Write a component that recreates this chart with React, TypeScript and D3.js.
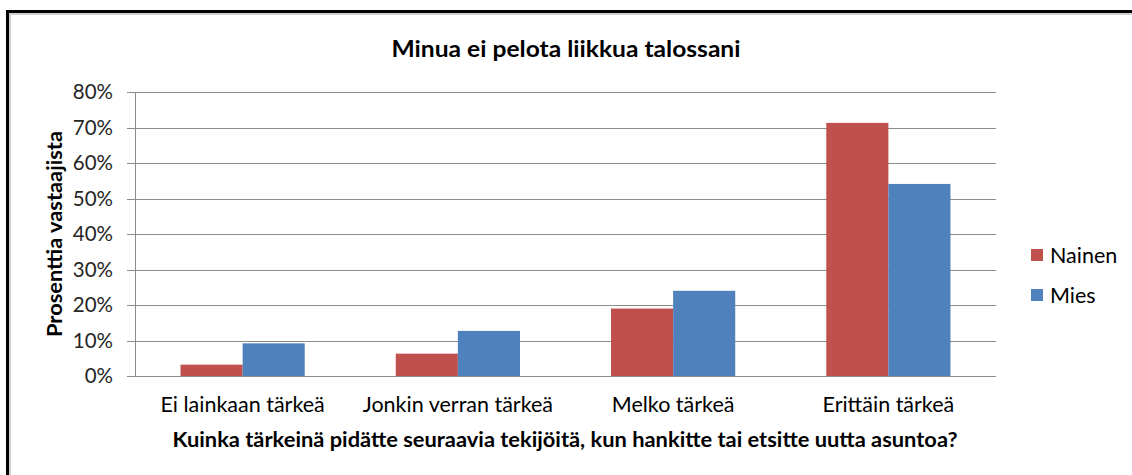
import React, { useEffect, useRef } from 'react';
import * as d3 from 'd3';

const categories = ['Ei lainkaan tärkeä', 'Jonkin verran tärkeä', 'Melko tärkeä', 'Erittäin tärkeä'];
const seriesNames = ['Nainen', 'Mies'];
const nainen = [3.2, 6.3, 19.0, 71.3];
const mies = [9.2, 12.7, 24.0, 54.1];
const yTicks = [0, 10, 20, 30, 40, 50, 60, 70, 80];
const colors = ['#C0504D', '#4F81BD'];

const FONT = "Lato, 'Liberation Sans', Arial, sans-serif";

const App: React.FC = () => {
  const svgRef = useRef<SVGSVGElement>(null);

  useEffect(() => {
    if (!svgRef.current) return;
    const width = 1132;
    const height = 475;
    const margin = { top: 92, right: 136, bottom: 99, left: 135 };

    const svg = d3.select(svgRef.current);
    svg.selectAll('*').remove();

    svg.append('rect').attr('width', width).attr('height', height).attr('fill', '#fff');

    // outer frame (only top and left edges are in view)
    svg.append('line').attr('x1', 9).attr('x2', width).attr('y1', 14).attr('y2', 14)
      .attr('stroke', '#d0d0d0').attr('stroke-width', 2);
    svg.append('line').attr('x1', 10).attr('x2', 10).attr('y1', 14).attr('y2', height)
      .attr('stroke', '#d0d0d0').attr('stroke-width', 2);
    svg.append('path').attr('d', `M7.5,${height} V11.5 H${width}`)
      .attr('fill', 'none').attr('stroke', '#000').attr('stroke-width', 3);

    const x0 = d3.scaleBand<string>()
      .domain(categories)
      .range([margin.left, width - margin.right])
      .paddingInner(0.423)
      .paddingOuter(0.2115);
    const x1 = d3.scaleBand<string>().domain(seriesNames).range([0, x0.bandwidth()]);
    const y = d3.scaleLinear().domain([0, 80]).range([height - margin.bottom, margin.top]);

    // gridlines
    svg.append('g')
      .selectAll('line')
      .data(yTicks)
      .join('line')
      .attr('x1', margin.left - 8)
      .attr('x2', width - margin.right)
      .attr('y1', d => Math.round(y(d)) + 0.5)
      .attr('y2', d => Math.round(y(d)) + 0.5)
      .attr('stroke', '#8c8c8c')
      .attr('stroke-width', 1);

    // y axis line
    svg.append('line')
      .attr('x1', margin.left + 0.5).attr('x2', margin.left + 0.5)
      .attr('y1', y(80)).attr('y2', y(0))
      .attr('stroke', '#8c8c8c');

    svg.append('g')
      .selectAll('text')
      .data(yTicks)
      .join('text')
      .attr('x', 113)
      .attr('y', d => y(d))
      .attr('dy', '0.36em')
      .attr('text-anchor', 'end')
      .attr('font-family', FONT)
      .attr('font-size', 20.5)
      .attr('fill', '#262626')
      .text(d => `${d}%`);

    const data = categories.map((c, i) => ({ cat: c, vals: [nainen[i], mies[i]] }));
    const groups = svg.append('g')
      .selectAll('g')
      .data(data)
      .join('g')
      .attr('transform', d => `translate(${x0(d.cat)},0)`);
    groups.selectAll('rect')
      .data(d => d.vals.map((v, j) => ({ v, s: seriesNames[j], j })))
      .join('rect')
      .attr('x', d => x1(d.s)!)
      .attr('width', x1.bandwidth())
      .attr('y', d => y(d.v))
      .attr('height', d => y(0) - y(d.v))
      .attr('fill', d => colors[d.j]);

    // redraw baseline on top of bars
    svg.append('line')
      .attr('x1', margin.left - 8).attr('x2', width - margin.right)
      .attr('y1', Math.round(y(0)) + 0.5).attr('y2', Math.round(y(0)) + 0.5)
      .attr('stroke', '#8c8c8c');

    // category labels
    svg.append('g')
      .selectAll('text')
      .data(categories)
      .join('text')
      .attr('x', d => x0(d)! + x0.bandwidth() / 2)
      .attr('y', 412)
      .attr('text-anchor', 'middle')
      .attr('font-family', FONT)
      .attr('font-size', 21.5)
      .attr('fill', '#000')
      .text(d => d);

    // titles
    svg.append('text')
      .attr('x', 566).attr('y', 57)
      .attr('text-anchor', 'middle')
      .attr('font-family', FONT)
      .attr('font-weight', 'bold')
      .attr('font-size', 23)
      .attr('textLength', 349)
      .attr('lengthAdjust', 'spacingAndGlyphs')
      .text('Minua ei pelota liikkua talossani');

    svg.append('text')
      .attr('x', 565).attr('y', 447)
      .attr('text-anchor', 'middle')
      .attr('font-family', FONT)
      .attr('font-weight', 'bold')
      .attr('font-size', 20)
      .attr('textLength', 785)
      .attr('lengthAdjust', 'spacingAndGlyphs')
      .text('Kuinka tärkeinä pidätte seuraavia tekijöitä, kun hankitte tai etsitte uutta asuntoa?');

    svg.append('text')
      .attr('transform', 'translate(62,234) rotate(-90)')
      .attr('text-anchor', 'middle')
      .attr('font-family', FONT)
      .attr('font-weight', 'bold')
      .attr('font-size', 21)
      .attr('textLength', 206)
      .attr('lengthAdjust', 'spacingAndGlyphs')
      .text('Prosenttia vastaajista');

    // legend
    const legend = svg.append('g')
      .selectAll('g')
      .data(seriesNames)
      .join('g')
      .attr('transform', (d, i) => `translate(1031,${249 + i * 40})`);
    legend.append('rect').attr('width', 12).attr('height', 12).attr('fill', (d, i) => colors[i]);
    legend.append('text')
      .attr('x', 19).attr('y', 6).attr('dy', '0.36em')
      .attr('font-family', FONT)
      .attr('font-size', 21.5)
      .attr('fill', '#000')
      .text(d => d);
  }, []);

  return (
    <div style={{ position: 'fixed', left: 0, top: 0 }}>
      <svg ref={svgRef} width={1132} height={475} style={{ display: 'block' }} />
    </div>
  );
};

export default App;
